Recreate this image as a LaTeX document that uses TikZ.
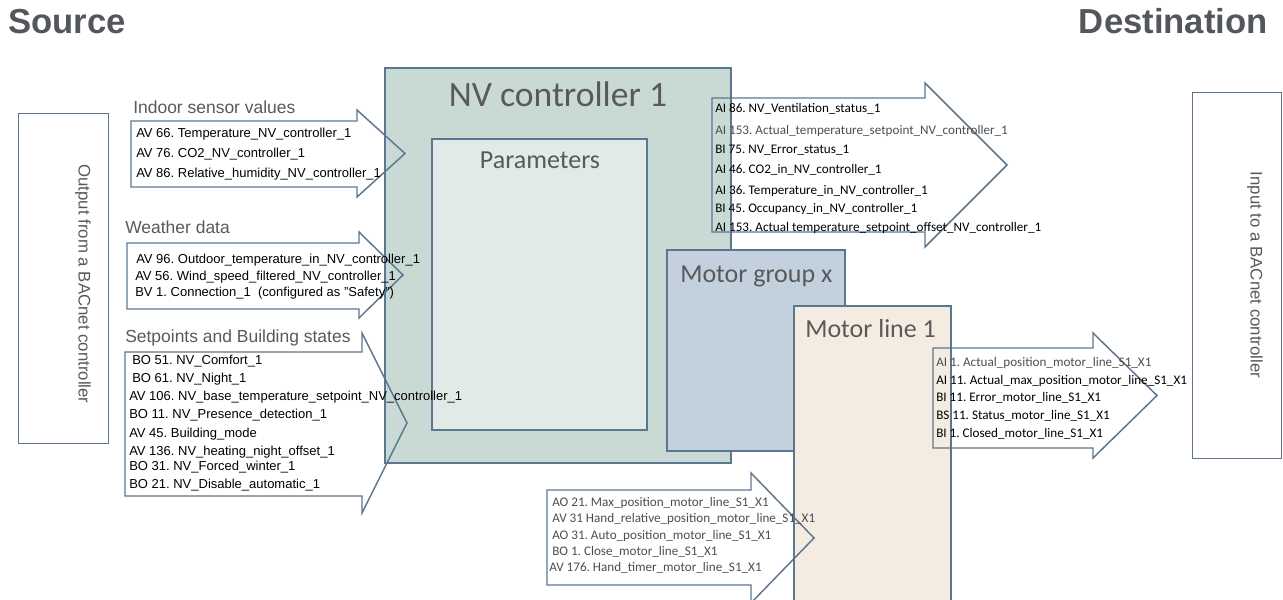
\documentclass[tikz,border=0pt]{standalone}
\usepackage{fontspec}
\setmainfont{Liberation Sans}
\newfontfamily\calfont{Carlito}
\frenchspacing
\definecolor{edge}{HTML}{5B7691}
\definecolor{nvfill}{HTML}{C9DAD4}
\definecolor{parfill}{HTML}{E1EAE7}
\definecolor{mgfill}{HTML}{C3D1DF}
\definecolor{mlfill}{HTML}{F4ECE0}
\definecolor{titlegray}{HTML}{53565A}
\definecolor{labgray}{HTML}{595959}
\definecolor{txtgray}{HTML}{4D4D4D}
\newcommand\blockarrow[7]{%
  \draw[arr] (#1,#2) -- (#4,#2) -- (#4,#5) -- (#7,{(#5+#6)/2}) -- (#4,#6) -- (#4,#3) -- (#1,#3) -- cycle;}
\begin{document}
\begin{tikzpicture}[x=0.75pt,y=-0.75pt,
  box/.style={draw=edge,line width=1.1pt},
  arr/.style={draw=edge,line width=1.1pt,line join=miter},
  vbox/.style={draw=edge,line width=0.6pt},
  ttl/.style={inner sep=0pt,anchor=base,text=labgray,font=\calfont\fontsize{26.7}{30}\selectfont},
  sub/.style={inner sep=0pt,text=labgray,font=\calfont\fontsize{19.5}{23}\selectfont},
  lab/.style={inner sep=0pt,anchor=base west,text=labgray,font=\fontsize{13.1}{15}\selectfont},
  li/.style={inner sep=0pt,anchor=base west,text=black,font=\fontsize{9.75}{11}\selectfont},
  lo/.style={inner sep=0pt,anchor=base west,text=black,font=\calfont\fontsize{9.85}{11}\selectfont},
  big/.style={inner sep=0pt,anchor=base,text=titlegray,font=\bfseries\fontsize{26}{30}\selectfont},
  vt/.style={inner sep=0pt,rotate=-90,text=labgray,font=\fontsize{12.6}{15}\selectfont}]
\useasboundingbox (0,0) rectangle (1283,600);
% titles
\node[big,anchor=base west] (src) at (8,33) {Source};
\node[big,anchor=base east] (dst) at (1268,33) {Destination};
% side boxes
\draw[vbox] (18,113) rectangle (108,443);
\node[vt] (outtxt) at (83,284) {Output from a BACnet controller};
\draw[vbox] (1192,92) rectangle (1281,458);
\node[vt] (intxt) at (1255,275) {Input to a BACnet controller};
% central boxes
\draw[box,fill=nvfill] (385,68) rectangle (731,463);
\draw[box,fill=parfill] (432,139) rectangle (647,430);
\draw[box,fill=mgfill] (667,250) rectangle (845,451);
\draw[box,fill=mlfill] (794,306) rectangle (951,602);
\node[ttl] (nv) at (558,106) {NV controller 1};
\node[ttl,font=\calfont\fontsize{19.5}{23}\selectfont] (par) at (540,168) {Parameters};
\node[sub,anchor=base west] (mg) at (680,282) {Motor group x};
\node[sub,anchor=base west] (ml) at (805,337) {Motor line 1};
% block arrows
\blockarrow{131}{121}{187}{357}{110}{197}{405}
\blockarrow{127}{243}{309}{359}{232}{318}{403}
\blockarrow{125}{352}{496}{362}{333}{513}{407}
\blockarrow{712}{98}{232}{925}{83}{247}{1007}
\blockarrow{547}{490}{585}{751}{473}{603}{814}
\blockarrow{933}{348}{448}{1093}{333}{458}{1157}
% indoor
\node[lab] (l1) at (133,113) {Indoor sensor values};
\node[li] (i1) at (136,137) {AV 66. Temperature\_NV\_controller\_1};
\node[li] (i2) at (136,157) {AV 76. CO2\_NV\_controller\_1};
\node[li] (i3) at (136,177) {AV 86. Relative\_humidity\_NV\_controller\_1};
% weather
\node[lab] (l2) at (125,233) {Weather data};
\node[li] (w1) at (136,263) {AV 96. Outdoor\_temperature\_in\_NV\_controller\_1};
\node[li] (w2) at (135,280) {AV 56. Wind\_speed\_filtered\_NV\_controller\_1};
\node[li] (w3) at (135,296) {BV 1. Connection\_1~ (configured as "Safety")};
% setpoints
\node[lab] (l3) at (125,342) {Setpoints and Building states};
\node[li] (s1) at (132,364) {BO 51. NV\_Comfort\_1};
\node[li] (s2) at (132,382) {BO 61. NV\_Night\_1};
\node[li] (s3) at (129,400) {AV 106. NV\_base\_temperature\_setpoint\_NV\_controller\_1};
\node[li] (s4) at (129,418) {BO 11. NV\_Presence\_detection\_1};
\node[li] (s5) at (129,437) {AV 45. Building\_mode};
\node[li] (s6) at (129,455) {AV 136. NV\_heating\_night\_offset\_1};
\node[li] (s7) at (129,470) {BO 31. NV\_Forced\_winter\_1};
\node[li] (s8) at (129,488) {BO 21. NV\_Disable\_automatic\_1};
% NV outputs
\node[lo] (o1) at (715,112) {AI 86. NV\_Ventilation\_status\_1};
\node[lo,text=txtgray] (o2) at (715,134) {AI 153. Actual\_temperature\_setpoint\_NV\_controller\_1};
\node[lo] (o3) at (715,153) {BI 75. NV\_Error\_status\_1};
\node[lo] (o4) at (715,173) {AI 46. CO2\_in\_NV\_controller\_1};
\node[lo] (o5) at (715,194) {AI 36. Temperature\_in\_NV\_controller\_1};
\node[lo] (o6) at (715,212) {BI 45. Occupancy\_in\_NV\_controller\_1};
\node[lo] (o7) at (715,231) {AI 153. Actual temperature\_setpoint\_offset\_NV\_controller\_1};
% motor line inputs
\node[lo,text=txtgray] (m1) at (552,506) {AO 21. Max\_position\_motor\_line\_S1\_X1};
\node[lo,text=txtgray] (m2) at (552,522) {AV 31 Hand\_relative\_position\_motor\_line\_S1\_X1};
\node[lo,text=txtgray] (m3) at (552,539) {AO 31. Auto\_position\_motor\_line\_S1\_X1};
\node[lo,text=txtgray] (m4) at (552,555) {BO 1. Close\_motor\_line\_S1\_X1};
\node[lo,text=txtgray] (m5) at (549,571) {AV 176. Hand\_timer\_motor\_line\_S1\_X1};
% motor line outputs
\node[lo,text=txtgray] (n1) at (936,366) {AI 1. Actual\_position\_motor\_line\_S1\_X1};
\node[lo] (n2) at (936,384) {AI 11. Actual\_max\_position\_motor\_line\_S1\_X1};
\node[lo] (n3) at (936,401) {BI 11. Error\_motor\_line\_S1\_X1};
\node[lo] (n4) at (936,419) {BS 11. Status\_motor\_line\_S1\_X1};
\node[lo] (n5) at (936,437) {BI 1. Closed\_motor\_line\_S1\_X1};
\end{tikzpicture}
\end{document}
